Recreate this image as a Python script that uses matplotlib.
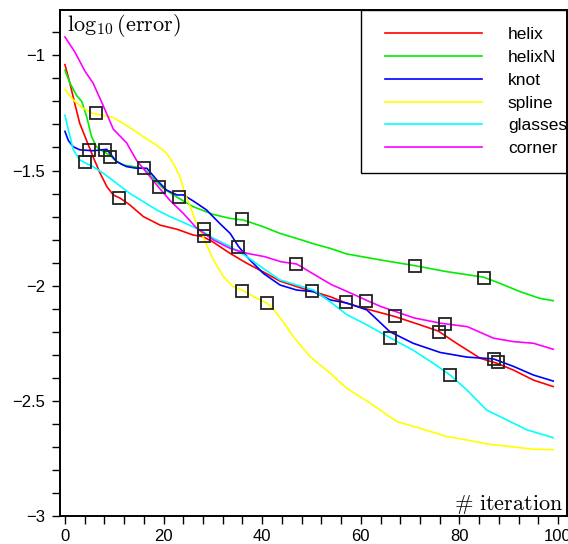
import matplotlib
matplotlib.use("Agg")
import matplotlib.pyplot as plt
from matplotlib.ticker import MultipleLocator, FuncFormatter
from matplotlib.lines import Line2D
from matplotlib.legend_handler import HandlerLine2D

plt.rcParams['font.family'] = ['Liberation Sans', 'DejaVu Sans']
plt.rcParams['mathtext.fontset'] = 'cm'

# curves (iteration, log10 error)
helix_x = [0, 1, 2, 3, 4.4, 5.7, 7.1, 8.5, 9.8, 11.2, 13.2, 15.9, 19.3, 22.7, 26, 28, 30, 33.5,
           36.9, 40.2, 43.6, 47, 50.4, 53.8, 57.1, 61, 66.9, 72, 75.7, 79.4, 84.2, 87.6, 90.9, 95, 99]
helix_y = [-1.04, -1.12, -1.21, -1.295, -1.37, -1.44, -1.51, -1.57, -1.606, -1.62, -1.65, -1.70,
           -1.737, -1.755, -1.78, -1.787, -1.81, -1.86, -1.903, -1.94, -1.98, -2.004, -2.026, -2.048,
           -2.076, -2.10, -2.134, -2.17, -2.197, -2.25, -2.315, -2.337, -2.366, -2.41, -2.438]

helixN_x = [0, 1, 2.4, 3.4, 4.4, 5.4, 6.4, 7.8, 9.1, 10.1, 11.8, 13.9, 15.9, 17.9, 19.9, 22.6, 26,
            30, 33.5, 36.2, 40.2, 43.6, 47, 50.4, 53.8, 57.1, 63.9, 70.9, 77.4, 84.9, 88.2, 92.3,
            96.3, 99]
helixN_y = [-1.064, -1.12, -1.175, -1.20, -1.266, -1.353, -1.397, -1.418, -1.433, -1.454, -1.476,
            -1.483, -1.49, -1.534, -1.577, -1.614, -1.657, -1.69, -1.708, -1.715, -1.744, -1.773,
            -1.795, -1.818, -1.838, -1.862, -1.888, -1.913, -1.939, -1.963, -1.99, -2.026, -2.055,
            -2.065]

knot_x = [0, 0.7, 1.7, 3, 5.7, 8.5, 9.1, 10.5, 12.5, 14.5, 16.6, 18.6, 20.6, 22.7, 24, 26, 28.7,
          31.4, 33.5, 35.2, 37.5, 40.2, 43.6, 47, 50.4, 53.8, 57.1, 61.2, 65.9, 70.6, 76.1, 81.5,
          86.9, 90.9, 95, 99]
knot_y = [-1.33, -1.37, -1.397, -1.41, -1.414, -1.408, -1.425, -1.462, -1.483, -1.49, -1.49, -1.54,
          -1.585, -1.606, -1.606, -1.632, -1.671, -1.73, -1.773, -1.83, -1.888, -1.946, -1.997,
          -2.019, -2.026, -2.062, -2.075, -2.105, -2.2, -2.25, -2.29, -2.31, -2.318, -2.35, -2.388,
          -2.414]

spline_x = [0, 1.7, 3.7, 5.7, 7.8, 9.8, 11.8, 13.9, 15.9, 18.6, 20.6, 22, 23.3, 24.3, 25.4, 26.4,
            27.4, 30.1, 32.1, 34.1, 36.2, 38.9, 41, 42.3, 44, 46.3, 49.7, 53.8, 57.1, 61.9, 67.3,
            72, 77.4, 81.5, 85.5, 90.9, 95, 99]
spline_y = [-1.148, -1.194, -1.23, -1.252, -1.26, -1.27, -1.295, -1.324, -1.353, -1.39, -1.425,
            -1.47, -1.525, -1.6, -1.655, -1.715, -1.758, -1.888, -1.96, -2.004, -2.022, -2.055,
            -2.076, -2.105, -2.149, -2.221, -2.308, -2.38, -2.445, -2.51, -2.59, -2.619, -2.655,
            -2.67, -2.687, -2.70, -2.71, -2.712]

glasses_x = [0, 0.7, 1.7, 3, 4.4, 5.7, 7.8, 10.5, 13.2, 15.9, 18.6, 21.3, 24, 27.4, 30.1, 33.5,
             36.9, 40.2, 43.6, 47, 50.4, 53.8, 57.1, 61.2, 65.9, 70.6, 74.7, 78.1, 81.5, 85.5,
             89.6, 93.7, 99]
glasses_y = [-1.26, -1.324, -1.41, -1.454, -1.47, -1.483, -1.512, -1.556, -1.60, -1.635, -1.671,
             -1.70, -1.725, -1.758, -1.794, -1.83, -1.874, -1.925, -1.975, -1.997, -2.019, -2.07,
             -2.125, -2.17, -2.226, -2.28, -2.337, -2.388, -2.453, -2.54, -2.583, -2.626, -2.66]

corner_x = [0, 2, 4.1, 5.7, 7.8, 9.8, 12.5, 14.5, 16.6, 18.9, 21.3, 24, 26.7, 30, 33.5, 37, 40.5,
            43.8, 47, 50.6, 54, 57.3, 61, 64, 70.8, 76.2, 81.6, 86.9, 91, 95, 99]
corner_y = [-0.92, -0.985, -1.07, -1.12, -1.22, -1.32, -1.38, -1.455, -1.51, -1.57, -1.63, -1.686,
            -1.75, -1.80, -1.838, -1.86, -1.874, -1.896, -1.906, -1.952, -1.995, -2.026, -2.062,
            -2.09, -2.14, -2.163, -2.178, -2.228, -2.243, -2.25, -2.276]

# square markers sitting on each curve
helix_mx = [11, 28.1, 50, 66.9, 75.9, 87.9]
helix_my = [-1.618, -1.784, -2.023, -2.131, -2.2, -2.333]
helixN_mx = [9.1, 16, 36, 70.9, 84.9]
helixN_my = [-1.44, -1.49, -1.712, -1.913, -1.965]
knot_mx = [4.9, 8.2, 23.1, 35, 57, 86.9]
knot_my = [-1.412, -1.412, -1.614, -1.833, -2.072, -2.318]
spline_mx = [6.2, 36, 40.9]
spline_my = [-1.249, -2.022, -2.076]
glasses_mx = [4.1, 65.9, 78.1]
glasses_my = [-1.464, -2.226, -2.388]
corner_mx = [19.1, 28.1, 46.9, 61.1, 77.1]
corner_my = [-1.57, -1.755, -1.907, -2.065, -2.168]

names = ['helix', 'helixN', 'knot', 'spline', 'glasses', 'corner']
colors = ['#ff0000', '#00ee00', '#0000ff', '#ffff00', '#00ffff', '#ff00ff']
curves = [(helix_x, helix_y), (helixN_x, helixN_y), (knot_x, knot_y),
          (spline_x, spline_y), (glasses_x, glasses_y), (corner_x, corner_y)]
marks = [(helix_mx, helix_my), (helixN_mx, helixN_my), (knot_mx, knot_my),
         (spline_mx, spline_my), (glasses_mx, glasses_my), (corner_mx, corner_my)]

fig = plt.figure(figsize=(5.68, 5.44), dpi=100)
ax = fig.add_axes([60 / 568, 28 / 544, 507 / 568, 506 / 544])

for (x, y), name, c in zip(curves, names, colors):
    ax.plot(x, y, color=c, lw=1.2, label=name, zorder=2)
for mx, my in marks:
    ax.plot(mx, my, ls='none', marker='s', ms=9, mfc='none', mec='#222222', mew=1.3, zorder=3)

ax.set_xlim(-1.0, 101.8)
ax.set_ylim(-3, -0.803)
ax.xaxis.set_major_locator(MultipleLocator(20))
ax.xaxis.set_minor_locator(MultipleLocator(4))
ax.yaxis.set_major_locator(MultipleLocator(0.5))
ax.yaxis.set_minor_locator(MultipleLocator(0.1))
fmt = FuncFormatter(lambda v, p: f'{v:g}'.replace('-', '\u2212'))
ax.xaxis.set_major_formatter(fmt)
ax.yaxis.set_major_formatter(fmt)
ax.tick_params(which='both', direction='out', length=5.5, width=1, labelsize=12, pad=5)
ax.tick_params(axis='x', pad=4)
for s in ax.spines.values():
    s.set_linewidth(1.4)
    s.set_zorder(6)

ax.text(0.013, 0.997, r'$\log_{10}(\mathrm{error})$', transform=ax.transAxes,
        ha='left', va='top', fontsize=16)
ax.text(0.993, 0.011, r'$\#\ \mathrm{iteration}$', transform=ax.transAxes,
        ha='right', va='baseline', fontsize=16)

leg = ax.legend(loc='upper right', bbox_to_anchor=(1.0335, 1.0), fontsize=12.5,
                fancybox=False, edgecolor='black', framealpha=1, borderpad=0.985,
                handlelength=5.985, handletextpad=1.5, labelspacing=0.44, borderaxespad=0,
                handler_map={Line2D: HandlerLine2D(xpad=0.40)})
leg.get_frame().set_linewidth(1.0)
leg.set_zorder(5)

fig.savefig('out.png', dpi=100)
